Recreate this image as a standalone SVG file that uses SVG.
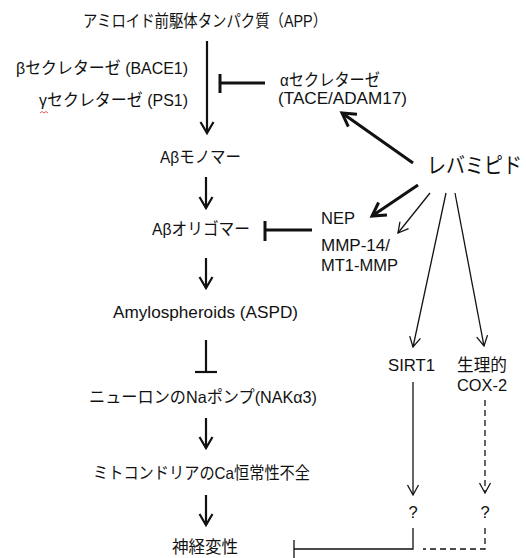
<svg xmlns="http://www.w3.org/2000/svg" width="526" height="558" viewBox="0 0 526 558">
<style>
text{font-family:"Liberation Sans","Noto Sans CJK JP",sans-serif;font-size:16.5px;fill:#111}
.big{font-size:19px}
.c{text-anchor:middle}
line,polyline{stroke:#111;fill:none}
.w2{stroke-width:2.2}
.w3{stroke-width:3}
.w1{stroke-width:1.3}
.dash{stroke-dasharray:6 4}
</style>
<defs>
<marker id="m2" markerUnits="userSpaceOnUse" viewBox="-14 -9 16 18" markerWidth="16" markerHeight="18" refX="0" refY="0" orient="auto" overflow="visible">
<path d="M-11,-6.5 L0,0 L-11,6.5" fill="none" stroke="#111" stroke-width="2.2"/>
</marker>
<marker id="m3" markerUnits="userSpaceOnUse" viewBox="-16 -10 18 20" markerWidth="18" markerHeight="20" refX="0" refY="0" orient="auto" overflow="visible">
<path d="M-13,-7.5 L0,0 L-13,7.5" fill="none" stroke="#111" stroke-width="3"/>
</marker>
<marker id="m1" markerUnits="userSpaceOnUse" viewBox="-14 -8 16 16" markerWidth="16" markerHeight="16" refX="0" refY="0" orient="auto" overflow="visible">
<path d="M-10,-5.5 L0,0 L-10,5.5" fill="none" stroke="#111" stroke-width="1.3" stroke-dasharray="none"/>
</marker>
</defs>
<rect width="526" height="558" fill="#fff"/>

<g id="connectors">
<line class="w2" x1="207" y1="41" x2="207" y2="133" marker-end="url(#m2)"/>
<line class="w3" x1="265" y1="83" x2="220" y2="83"/>
<line class="w3" x1="220" y1="74" x2="220" y2="93"/>
<line class="w2" x1="206" y1="177" x2="206" y2="208" marker-end="url(#m2)"/>
<line class="w3" x1="312" y1="230" x2="265" y2="230"/>
<line class="w3" x1="265" y1="221" x2="265" y2="241"/>
<line class="w2" x1="206" y1="258" x2="206" y2="288" marker-end="url(#m2)"/>
<line class="w2" x1="206" y1="340" x2="206" y2="372"/>
<line class="w2" x1="195" y1="372" x2="217" y2="372"/>
<line class="w2" x1="206" y1="418" x2="206" y2="448" marker-end="url(#m2)"/>
<line class="w2" x1="206" y1="495" x2="206" y2="525" marker-end="url(#m2)"/>
<line class="w3" x1="413" y1="163" x2="342" y2="113" marker-end="url(#m3)"/>
<line class="w3" x1="418" y1="185" x2="372" y2="216" marker-end="url(#m3)"/>
<line class="w1" x1="430" y1="193" x2="398" y2="233" marker-end="url(#m1)"/>
<line class="w1" x1="446" y1="193" x2="413" y2="347" marker-end="url(#m1)"/>
<line class="w1" x1="455" y1="193" x2="484" y2="346" marker-end="url(#m1)"/>
<line class="w1" x1="413" y1="382" x2="413" y2="495" marker-end="url(#m1)"/>
<line class="w1 dash" x1="485" y1="400" x2="485" y2="493" marker-end="url(#m1)"/>
<polyline class="w1" points="413,528 413,549 294,549"/>
<line class="w1" x1="294" y1="540" x2="294" y2="558"/>
<polyline class="w1 dash" points="485,528 485,549 423,549"/>
</g>

<g id="app"><text x="83" y="27" textLength="244" lengthAdjust="spacingAndGlyphs">アミロイド前駆体タンパク質（APP）</text></g>
<g id="bace1"><text x="16" y="74" textLength="172" lengthAdjust="spacingAndGlyphs">βセクレターゼ (BACE1)</text></g>
<g id="ps1"><text x="39" y="106" textLength="149" lengthAdjust="spacingAndGlyphs">γセクレターゼ (PS1)</text>
<path d="M40,113 l2,-1.5 l2,1.5 l2,-1.5 l2,1.5" fill="none" stroke="#d33" stroke-width="0.8"/></g>
<g id="alpha">
<text x="280" y="86" textLength="100" lengthAdjust="spacingAndGlyphs">αセクレターゼ</text>
<text x="278" y="104" textLength="129" lengthAdjust="spacingAndGlyphs">(TACE/ADAM17)</text>
</g>
<g id="rebamipide"><text class="big" transform="translate(427,173) scale(1,1.15)" x="0" y="0">レバミピド</text></g>
<g id="monomer"><text x="160" y="163" textLength="81" lengthAdjust="spacingAndGlyphs">Aβモノマー</text></g>
<g id="oligomer"><text x="152" y="235" textLength="98" lengthAdjust="spacingAndGlyphs">Aβオリゴマー</text></g>
<g id="nep"><text x="321" y="224" textLength="34" lengthAdjust="spacingAndGlyphs">NEP</text></g>
<g id="mmp14">
<text x="321" y="251" textLength="69" lengthAdjust="spacingAndGlyphs">MMP-14/</text>
<text x="321" y="271" textLength="77" lengthAdjust="spacingAndGlyphs">MT1-MMP</text>
</g>
<g id="aspd"><text x="113" y="318" textLength="185" lengthAdjust="spacingAndGlyphs">Amylospheroids (ASPD)</text></g>
<g id="nak"><text x="89" y="403" textLength="228" lengthAdjust="spacingAndGlyphs">ニューロンのNaポンプ(NAKα3)</text></g>
<g id="mito"><text x="93" y="479" textLength="217" lengthAdjust="spacingAndGlyphs">ミトコンドリアのCa恒常性不全</text></g>
<g id="neuro"><text x="172" y="553" textLength="66" lengthAdjust="spacingAndGlyphs">神経変性</text></g>
<g id="sirt1"><text x="388" y="371" textLength="47" lengthAdjust="spacingAndGlyphs">SIRT1</text></g>
<g id="cox2">
<text x="457" y="371" textLength="50" lengthAdjust="spacingAndGlyphs">生理的</text>
<text x="457" y="391" textLength="50" lengthAdjust="spacingAndGlyphs">COX-2</text>
</g>
<g id="q1"><text class="c" x="413" y="518">?</text></g>
<g id="q2"><text class="c" x="485" y="518">?</text></g>
</svg>
